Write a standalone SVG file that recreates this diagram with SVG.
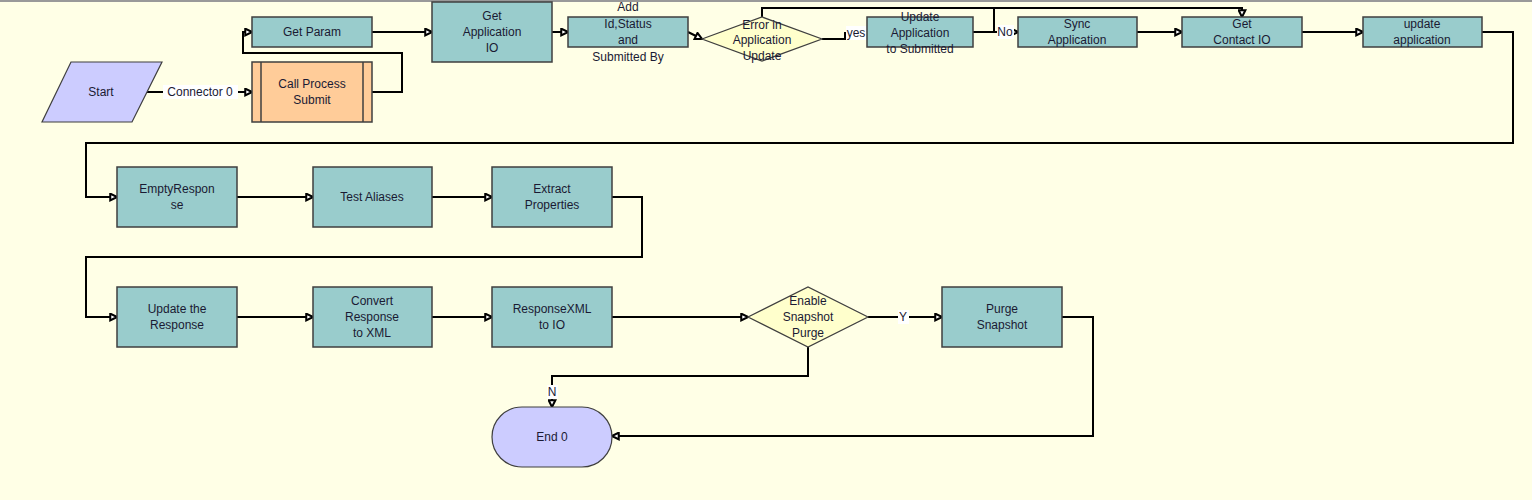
<svg xmlns="http://www.w3.org/2000/svg" width="1532" height="500" viewBox="0 0 1532 500">
<defs>
<style>
.bg{fill:#FFFFE6}
.task{fill:#99CCCC;stroke:#3F3F3F;stroke-width:1.5}
.sub{fill:#FFCC99;stroke:#3F3F3F;stroke-width:1.5}
.term{fill:#CCCCFF;stroke:#3F3F3F;stroke-width:1.2}
.dec{fill:#FFFFCC;stroke:#3F3F3F;stroke-width:1.2}
text{font-family:"Liberation Sans",Arial,sans-serif;font-size:12px;fill:#1A1A33;text-anchor:middle}
.conn path{fill:none;stroke:#000;stroke-width:2;marker-end:url(#arr)}
.lbl{fill:#FFFFFF}
</style>
<marker id="arr" viewBox="0 0 8 8" refX="7" refY="4" markerWidth="4.5" markerHeight="4.5" orient="auto" markerUnits="strokeWidth">
<path d="M1,1 L7,4 L1,7 z" fill="#FFFFFF" stroke="#000" stroke-width="1.8"/>
</marker>
</defs>
<rect class="bg" x="0" y="0" width="1532" height="500"/>
<rect x="0" y="0" width="1532" height="2" fill="#999999"/>

<g class="conn">
<path d="M147,92 H252"/>
<path d="M372,92 H402 V53 H243 V32 H252"/>
<path d="M372,32 H432"/>
<path d="M552,32 H568"/>
<path d="M688,32 L702,39"/>
<path d="M822,39 H845 V33 H867"/>
<path d="M762,17 V8 H994 V32 H1018"/>
<path d="M973,32 H994 V8 H1242 V17"/>
<path d="M1137,32 H1182"/>
<path d="M1302,32 H1363"/>
<path d="M1482,32 H1513 V143 H86 V197 H117"/>
<path d="M237,197 H313"/>
<path d="M432,197 H492"/>
<path d="M612,197 H642 V257 H86 V317 H117"/>
<path d="M237,317 H313"/>
<path d="M432,317 H492"/>
<path d="M612,317 H748"/>
<path d="M868,317 H942"/>
<path d="M808,347 V376 H552 V407"/>
<path d="M1062,317 H1093 V436 H612"/>
<rect class="lbl" x="163" y="85" width="75" height="14"/>
<text x="200" y="96">Connector 0</text>
<rect class="lbl" x="846" y="26" width="21" height="14"/>
<text x="856" y="37">yes</text>
<rect class="lbl" x="997" y="25" width="17" height="14"/>
<text x="1005" y="36">No</text>
<rect class="lbl" x="898" y="310" width="11" height="14"/>
<text x="903" y="321">Y</text>
<rect class="lbl" x="547" y="385" width="11" height="14"/>
<text x="552" y="396">N</text>
</g>

<g id="start">
<polygon class="term" points="71,62 162,62 132,122 42,122"/>
<text x="101" y="96">Start</text>
</g>
<g id="call-process-submit">
<rect class="sub" x="252" y="62" width="120" height="60"/>
<line x1="261" y1="62" x2="261" y2="122" stroke="#3F3F3F" stroke-width="1.5"/>
<line x1="363" y1="62" x2="363" y2="122" stroke="#3F3F3F" stroke-width="1.5"/>
<text x="312" y="88">Call Process</text>
<text x="312" y="104">Submit</text>
</g>
<g id="get-param">
<rect class="task" x="252" y="17" width="120" height="30"/>
<text x="312" y="36">Get Param</text>
</g>
<g id="get-application-io">
<rect class="task" x="432" y="2" width="120" height="60"/>
<text x="492" y="20">Get</text>
<text x="492" y="36">Application</text>
<text x="492" y="52">IO</text>
</g>
<g id="add-id-status">
<rect class="task" x="568" y="17" width="120" height="30"/>
<text x="628" y="11">Add</text>
<text x="628" y="28">Id,Status</text>
<text x="628" y="44">and</text>
<text x="628" y="61">Submitted By</text>
</g>
<g id="error-in-application-update">
<polygon class="dec" points="702,39 762,17 822,39 762,61"/>
<text x="762" y="29">Error in</text>
<text x="762" y="44">Application</text>
<text x="762" y="60">Update</text>
</g>
<g id="update-application-submitted">
<rect class="task" x="867" y="17" width="106" height="30"/>
<text x="920" y="21">Update</text>
<text x="920" y="37">Application</text>
<text x="920" y="53">to Submitted</text>
</g>
<g id="sync-application">
<rect class="task" x="1018" y="17" width="119" height="30"/>
<text x="1077" y="28">Sync</text>
<text x="1077" y="44">Application</text>
</g>
<g id="get-contact-io">
<rect class="task" x="1182" y="17" width="120" height="30"/>
<text x="1242" y="28">Get</text>
<text x="1242" y="44">Contact IO</text>
</g>
<g id="update-application">
<rect class="task" x="1363" y="17" width="119" height="30"/>
<text x="1422" y="28">update</text>
<text x="1422" y="44">application</text>
</g>
<g id="empty-response">
<rect class="task" x="117" y="167" width="120" height="60"/>
<text x="177" y="193">EmptyRespon</text>
<text x="177" y="209">se</text>
</g>
<g id="test-aliases">
<rect class="task" x="313" y="167" width="119" height="60"/>
<text x="372" y="201">Test Aliases</text>
</g>
<g id="extract-properties">
<rect class="task" x="492" y="167" width="120" height="60"/>
<text x="552" y="193">Extract</text>
<text x="552" y="209">Properties</text>
</g>
<g id="update-the-response">
<rect class="task" x="117" y="287" width="120" height="60"/>
<text x="177" y="313">Update the</text>
<text x="177" y="329">Response</text>
</g>
<g id="convert-response-to-xml">
<rect class="task" x="313" y="287" width="119" height="60"/>
<text x="372" y="305">Convert</text>
<text x="372" y="321">Response</text>
<text x="372" y="337">to XML</text>
</g>
<g id="responsexml-to-io">
<rect class="task" x="492" y="287" width="120" height="60"/>
<text x="552" y="313">ResponseXML</text>
<text x="552" y="329">to IO</text>
</g>
<g id="enable-snapshot-purge">
<polygon class="dec" points="748,317 808,287 868,317 808,347"/>
<text x="808" y="305">Enable</text>
<text x="808" y="321">Snapshot</text>
<text x="808" y="337">Purge</text>
</g>
<g id="purge-snapshot">
<rect class="task" x="942" y="287" width="120" height="60"/>
<text x="1002" y="313">Purge</text>
<text x="1002" y="329">Snapshot</text>
</g>
<g id="end-0">
<rect class="term" x="492" y="407" width="120" height="60" rx="30" ry="30"/>
<text x="552" y="441">End 0</text>
</g>
</svg>
